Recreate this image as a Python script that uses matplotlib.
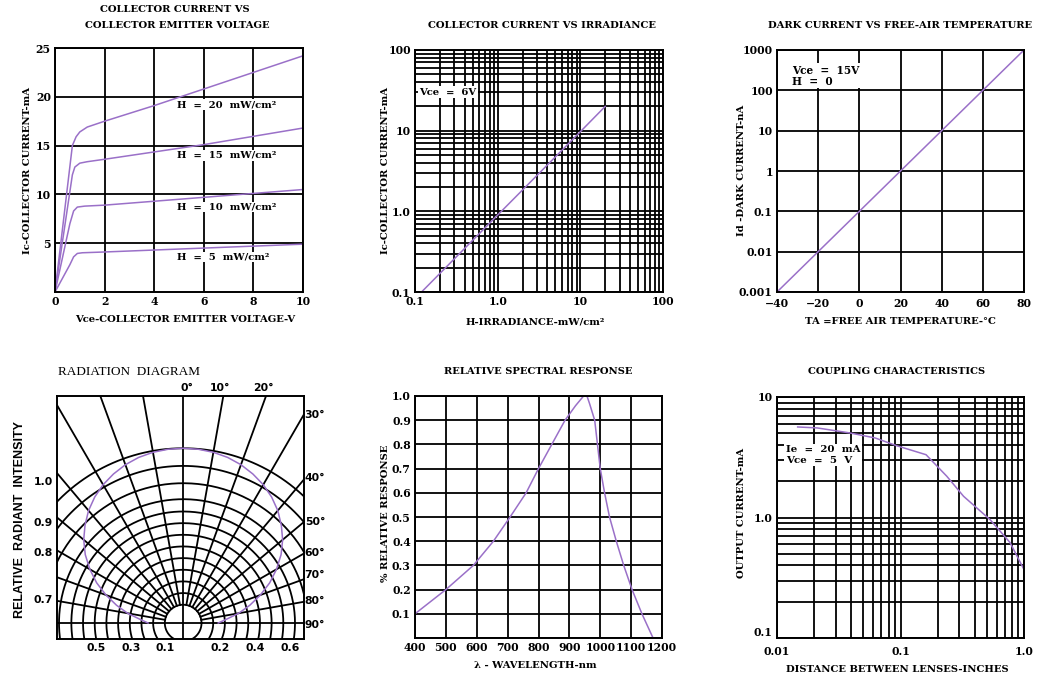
import numpy as np
import matplotlib
matplotlib.use("Agg")
import matplotlib.pyplot as plt
from matplotlib.ticker import FixedLocator, NullFormatter, LogLocator

PURPLE = "#9a70c8"
SERIF = "DejaVu Serif"
W, H = 1038, 678

# ---- collector current vs collector emitter voltage
vce_20 = [0, 0.35, 0.7, 0.85, 1.0, 1.3, 2, 4, 6, 8, 10]
ic_20 = [0, 7.5, 15.0, 15.9, 16.4, 16.9, 17.5, 19.1, 20.8, 22.5, 24.2]
vce_15 = [0, 0.7, 0.8, 1.0, 1.3, 2, 4, 6, 8, 10]
ic_15 = [0, 12.0, 12.8, 13.2, 13.35, 13.6, 14.35, 15.1, 15.95, 16.8]
vce_10 = [0, 0.6, 0.75, 0.9, 1.2, 2, 4, 6, 8, 10]
ic_10 = [0, 7.0, 8.3, 8.7, 8.8, 8.9, 9.3, 9.7, 10.1, 10.5]
vce_5 = [0, 0.6, 0.75, 0.9, 1.1, 2, 4, 6, 8, 10]
ic_5 = [0, 2.8, 3.6, 3.95, 4.02, 4.1, 4.3, 4.5, 4.7, 4.9]
h_labels = ["H  =  20  mW/cm²", "H  =  15  mW/cm²", "H  =  10  mW/cm²", "H  =  5  mW/cm²"]
h_label_y = [19.2, 14.0, 8.7, 3.6]

# ---- collector current vs irradiance (Vce = 6V)
irr = [0.12, 1.0, 10, 20]
ic_irr = [0.1, 0.9, 9.7, 20]

# ---- dark current vs temperature
temp = [-40, -20, 0, 20, 40, 60, 80]
dark = [0.001, 0.01, 0.1, 1, 10, 100, 1000]

# ---- radiation diagram (relative intensity vs angle)
rad_angle = [0, 5, 10, 15, 20, 25, 30, 35, 40, 45, 50, 55, 60, 65, 70, 75, 80, 85, 90]
rad_int = [1.0, 0.998, 0.992, 0.981, 0.964, 0.941, 0.914, 0.880, 0.840, 0.792,
           0.741, 0.682, 0.615, 0.545, 0.469, 0.394, 0.322, 0.248, 0.200]
ring_r = [0.55, 0.9, 1.25, 1.6, 1.95, 2.3, 2.65, 3.0, 3.35, 3.72, 4.2, 4.72, 5.25]
left_labels = ["1.0", "0.9", "0.8", "0.7"]
left_y = [4.25, 3.0, 2.1, 0.7]
bottom_labels = ["0.5", "0.3", "0.1", "0.2", "0.4", "0.6"]
bottom_x = [-2.6, -1.55, -0.55, 1.1, 2.15, 3.2]
right_labels = ["30°", "40°", "50°", "60°", "70°", "80°", "90°"]
right_y = [6.25, 4.35, 3.02, 2.1, 1.45, 0.65, -0.05]
top_labels = ["0°", "10°", "20°"]
top_x = [0.12, 1.1, 2.4]

# ---- relative spectral response
wl = [400, 500, 589, 654, 708, 760, 800, 843, 886, 920, 946, 957, 965, 982,
      1000, 1014, 1030, 1052, 1076, 1103, 1135, 1171]
resp = [0.10, 0.20, 0.30, 0.40, 0.50, 0.60, 0.70, 0.80, 0.90, 0.96, 1.00, 1.00,
        0.97, 0.90, 0.70, 0.60, 0.50, 0.40, 0.30, 0.20, 0.10, 0.00]

# ---- coupling characteristics
dist = [0.0147, 0.0211, 0.039, 0.0624, 0.0933, 0.161, 0.237, 0.324, 0.531, 0.77, 1.0]
iout = [5.64, 5.54, 5.03, 4.57, 3.94, 3.32, 2.2, 1.5, 0.96, 0.62, 0.37]

GRID_LW = 1.3


def box(l, t, r, b):
    return [l / W, 1 - b / H, (r - l) / W, (b - t) / H]


def ftext(x, y, s, **kw):
    kw.setdefault("ha", "center")
    kw.setdefault("va", "center")
    kw.setdefault("family", SERIF)
    kw.setdefault("weight", "bold")
    kw.setdefault("fontsize", 7.2)
    fig.text(x / W, 1 - y / H, s, **kw)


def style(ax):
    ax.tick_params(which="both", length=0, labelsize=7.8, pad=3)
    for lab in ax.get_xticklabels() + ax.get_yticklabels():
        lab.set_family(SERIF)
        lab.set_weight("bold")
    for sp in ax.spines.values():
        sp.set_linewidth(1.4)
    ax.grid(True, which="both", color="black", lw=GRID_LW)
    ax.set_axisbelow(True)


fig = plt.figure(figsize=(W / 100, H / 100), dpi=100)

# panel 1
ax1 = fig.add_axes(box(55, 48, 303, 292))
for x, y in [(vce_20, ic_20), (vce_15, ic_15), (vce_10, ic_10), (vce_5, ic_5)]:
    ax1.plot(x, y, color=PURPLE, lw=1.1)
ax1.set_xlim(0, 10)
ax1.set_ylim(0, 25)
ax1.set_xticks([0, 2, 4, 6, 8, 10])
ax1.set_yticks([5, 10, 15, 20, 25])
for s, y in zip(h_labels, h_label_y):
    ax1.text(4.9, y, s, family=SERIF, weight="bold", fontsize=7.2, va="center",
             bbox=dict(facecolor="white", edgecolor="none", pad=0.5))
style(ax1)
ftext(175, 9, "COLLECTOR CURRENT VS")
ftext(177, 25, "COLLECTOR EMITTER VOLTAGE")
ftext(185, 320, "Vce-COLLECTOR EMITTER VOLTAGE-V")
ftext(28, 170, "Ic-COLLECTOR CURRENT-mA", rotation=90)

# panel 2
ax2 = fig.add_axes(box(415, 50, 663, 292))
ax2.plot(irr, ic_irr, color=PURPLE, lw=1.1)
ax2.set_xscale("log")
ax2.set_yscale("log")
ax2.set_xlim(0.1, 100)
ax2.set_ylim(0.1, 100)
ax2.set_xticks([0.1, 1, 10, 100])
ax2.set_xticklabels(["0.1", "1.0", "10", "100"])
ax2.set_yticks([0.1, 1, 10, 100])
ax2.set_yticklabels(["0.1", "1.0", "10", "100"])
for a in (ax2.xaxis, ax2.yaxis):
    a.set_minor_locator(LogLocator(base=10, subs=range(2, 10)))
    a.set_minor_formatter(NullFormatter())
ax2.text(0.112, 30, "Vce  =  6V", family=SERIF, weight="bold", fontsize=7.2, va="center",
         bbox=dict(facecolor="white", edgecolor="none", pad=1))
style(ax2)
ftext(542, 25, "COLLECTOR CURRENT VS IRRADIANCE")
ftext(535, 322, "H-IRRADIANCE-mW/cm²")
ftext(385, 170, "Ic-COLLECTOR CURRENT-mA", rotation=90)

# panel 3
ax3 = fig.add_axes(box(777, 50, 1024, 292))
ax3.plot(temp, dark, color=PURPLE, lw=1.1)
ax3.set_yscale("log")
ax3.set_xlim(-40, 80)
ax3.set_ylim(0.001, 1000)
ax3.set_xticks(temp)
ax3.set_xticklabels(["−40", "−20", "0", "20", "40", "60", "80"])
ax3.set_yticks(dark)
ax3.set_yticklabels(["0.001", "0.01", "0.1", "1", "10", "100", "1000"])
ax3.yaxis.set_minor_locator(FixedLocator([]))
ax3.text(0.06, 0.94, "Vce  =  15V\nH  =  0", transform=ax3.transAxes, family=SERIF,
         weight="bold", fontsize=7.6, va="top", linespacing=1.0,
         bbox=dict(facecolor="white", edgecolor="none", pad=1))
style(ax3)
ax3.tick_params(axis="x", pad=4)
ftext(900, 25, "DARK CURRENT VS FREE-AIR TEMPERATURE")
ftext(900, 322, "TA =FREE AIR TEMPERATURE-°C")
ftext(742, 170, "Id -DARK CURRENT-nA", rotation=90)

# panel 4 - radiation diagram
ax4 = fig.add_axes(box(57, 396, 304, 639))
ax4.set_xlim(-3.78, 3.62)
ax4.set_ylim(-0.48, 6.82)
t = np.linspace(0, 2 * np.pi, 400)
for r in ring_r:
    ax4.plot(r * np.cos(t), r * np.sin(t), color="black", lw=GRID_LW)
for a in range(-80, 90, 10):
    if a == 0:
        continue
    th = np.radians(a)
    ax4.plot([ring_r[0] * np.sin(th), 12 * np.sin(th)],
             [ring_r[0] * np.cos(th), 12 * np.cos(th)], color="black", lw=GRID_LW)
ax4.axhline(0, color="black", lw=GRID_LW)
ax4.axvline(0, color="black", lw=GRID_LW)
ang = np.radians(np.concatenate([-np.array(rad_angle[::-1]), rad_angle[1:]]))
inten = np.concatenate([rad_int[::-1], rad_int[1:]]) * ring_r[-1]
ax4.plot(inten * np.sin(ang), inten * np.cos(ang), color=PURPLE, lw=1.1)
ax4.set_xticks([])
ax4.set_yticks([])
for sp in ax4.spines.values():
    sp.set_linewidth(1.4)
for s, y in zip(left_labels, left_y):
    ax4.text(-4.2, y, s, ha="center", va="center", fontsize=7.8, weight="bold", clip_on=False)
for s, x in zip(bottom_labels, bottom_x):
    ax4.text(x, -0.75, s, ha="center", va="center", fontsize=7.8, weight="bold", clip_on=False)
for s, y in zip(right_labels, right_y):
    ax4.text(3.95, y, s, ha="center", va="center", fontsize=7.8, weight="bold", clip_on=False)
for s, x in zip(top_labels, top_x):
    ax4.text(x, 7.06, s, ha="center", va="center", fontsize=7.8, weight="bold", clip_on=False)
fig.text(58 / W, 1 - 372 / H, "RADIATION  DIAGRAM", ha="left", va="center",
         family="Liberation Serif", fontsize=9.5)
fig.text(20 / W, 1 - 520 / H, "RELATIVE  RADIANT  INTENSITY", ha="center", va="center",
         rotation=90, fontsize=9, weight="bold", family="Liberation Sans")

# panel 5
ax5 = fig.add_axes(box(415, 396, 662, 638))
ax5.plot(wl, resp, color=PURPLE, lw=1.1)
ax5.set_xlim(400, 1200)
ax5.set_ylim(0, 1.0)
ax5.set_xticks(range(400, 1201, 100))
ax5.set_yticks([0.1, 0.2, 0.3, 0.4, 0.5, 0.6, 0.7, 0.8, 0.9, 1.0])
ax5.set_yticklabels(["0.1", "0.2", "0.3", "0.4", "0.5", "0.6", "0.7", "0.8", "0.9", "1.0"])
ax5.yaxis.set_minor_locator(FixedLocator([0]))
style(ax5)
ftext(538, 372, "RELATIVE SPECTRAL RESPONSE")
ftext(535, 665, "λ - WAVELENGTH-nm")
ftext(385, 513, "% RELATIVE RESPONSE", rotation=90)

# panel 6
ax6 = fig.add_axes(box(777, 397, 1024, 638))
ax6.plot(dist, iout, color=PURPLE, lw=1.1)
ax6.set_xscale("log")
ax6.set_yscale("log")
ax6.set_xlim(0.01, 1.0)
ax6.set_ylim(0.1, 10)
ax6.set_xticks([0.01, 0.1, 1.0])
ax6.set_xticklabels(["0.01", "0.1", "1.0"])
ax6.set_yticks([0.1, 1.0, 10])
ax6.set_yticklabels(["0.1", "1.0", "10"])
for a in (ax6.xaxis, ax6.yaxis):
    a.set_minor_locator(LogLocator(base=10, subs=range(2, 10)))
    a.set_minor_formatter(NullFormatter())
ax6.text(0.0118, 3.3, "Ie  =  20  mA\nVce  =  5  V", family=SERIF, weight="bold",
         fontsize=7.4, va="center", linespacing=1.2,
         bbox=dict(facecolor="white", edgecolor="none", pad=1))
style(ax6)
ax6.tick_params(axis="x", pad=6)
ax6.get_yticklabels()[0].set_va("bottom")
ftext(897, 372, "COUPLING CHARACTERISTICS")
ftext(897, 669, "DISTANCE BETWEEN LENSES-INCHES")
ftext(742, 513, "OUTPUT CURRENT-mA", rotation=90)

fig.savefig("out.png", dpi=100)
